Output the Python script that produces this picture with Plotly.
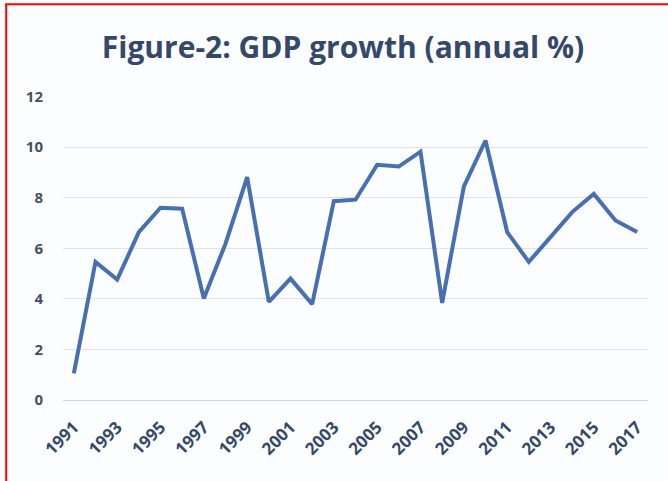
import plotly.graph_objects as go

years = list(range(1991, 2018))
gdp_growth = [1.05, 5.46, 4.76, 6.64, 7.60, 7.56, 4.01, 6.18, 8.81, 3.88,
              4.80, 3.79, 7.86, 7.92, 9.30, 9.23, 9.82, 3.84, 8.44, 10.26,
              6.64, 5.46, 6.44, 7.43, 8.15, 7.10, 6.64]
tick_years = list(range(1991, 2018, 2))
tick_labels = [str(y) for y in tick_years]
y_ticks = [0, 2, 4, 6, 8, 10, 12]

W, H = 668, 481
L, R, T, B = 63, 20, 96, 81
pw, ph = W - L - R, H - T - B

def px_x(x):
    return (x - L) / pw

def px_y(y):
    return (H - B - y) / ph

fig = go.Figure()
fig.add_trace(go.Scatter(
    x=years, y=gdp_growth, mode="lines",
    line=dict(color="#4670b0", width=4),
    hoverinfo="x+y", showlegend=False,
))

fig.update_layout(
    width=W, height=H,
    margin=dict(l=L, r=R, t=T, b=B, autoexpand=False),
    paper_bgcolor="#fcfdfe",
    plot_bgcolor="#fcfdfe",
    title=dict(
        text="<b>Figure-2: GDP growth (annual %)</b>",
        font=dict(family="Open Sans", size=30, color="#34496a"),
        x=343 / W, xref="container", xanchor="center",
        y=1 - 47 / H, yref="container", yanchor="middle",
    ),
    xaxis=dict(
        range=[1990.5, 2017.5],
        tickvals=tick_years, ticktext=tick_labels,
        tickangle=-45,
        tickfont=dict(family="Open Sans", size=17, color="#34496a", weight="bold"),
        showgrid=False, zeroline=False,
        showline=False,
        ticks="", ticklabelstandoff=13, fixedrange=True,
    ),
    yaxis=dict(
        range=[0, 12.02],
        tickvals=y_ticks,
        tickfont=dict(family="Open Sans", size=15, color="#465063", weight="bold"),
        showgrid=True, gridcolor="#e3e3e3", gridwidth=1,
        zeroline=True, zerolinecolor="#d6d6d6", zerolinewidth=1,
        ticks="", ticklabelstandoff=19, fixedrange=True,
    ),
    shapes=[
        dict(type="line", xref="paper", yref="paper",
             x0=px_x(6.2), x1=px_x(6.2), y0=px_y(4.3), y1=px_y(490),
             line=dict(color="#ff0000", width=2)),
        dict(type="line", xref="paper", yref="paper",
             x0=px_x(5.2), x1=px_x(680), y0=px_y(4.3), y1=px_y(4.3),
             line=dict(color="#ff0000", width=2)),
    ],
)

fig.write_html(
    "out.html",
    config={"displayModeBar": False},
    post_script="document.body.style.margin='0';document.body.style.padding='0';",
)
